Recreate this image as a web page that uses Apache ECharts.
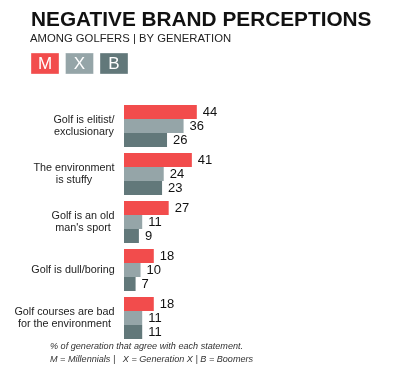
<!DOCTYPE html>
<html><head><meta charset="utf-8">
<script src="https://cdn.jsdelivr.net/npm/echarts@6/dist/echarts.min.js"></script>
<style>html,body{margin:0;padding:0;background:#fff}#c{width:400px;height:371px}</style>
</head><body><div id="c"></div>
<script>
const categories = ["Golf is elitist/\nexclusionary", "The environment\nis stuffy", "Golf is an old\nman's sport", "Golf is dull/boring", "Golf courses are bad\nfor the environment"];
const millennials = [44, 41, 27, 18, 18];
const genX = [36, 24, 11, 10, 11];
const boomers = [26, 23, 9, 7, 11];
const seriesNames = ["M", "X", "B"];
const colors = ["#F24C4C", "#95A5A8", "#62787A"];

const chart = echarts.init(document.getElementById('c'), null, {renderer: 'canvas'});
const font = "Liberation Sans, Arial, sans-serif";
const catFontSize = 10.8;
// measure each category label's widest line so its lines can be centred within the block
const ctx = document.createElement('canvas').getContext('2d');
ctx.font = catFontSize + 'px ' + font;
const rich = {};
categories.forEach((c, i) => {
  const w = Math.max(...c.split('\n').map(s => ctx.measureText(s).width));
  rich['c' + i] = {width: Math.ceil(w), align: 'center', fontSize: catFontSize, lineHeight: 12, color: '#222', fontFamily: font};
});
const lbl = {show: true, position: 'right', distance: 6, fontSize: 13, color: '#111', fontFamily: font};
const mk = (name, data, color) => ({
  name, type: 'bar', data, barWidth: 14, barGap: '0%',
  itemStyle: {color}, label: lbl, silent: true
});
const legendEls = [];
seriesNames.forEach((n, i) => {
  const x0 = 31 + i * 34.5;
  legendEls.push({type: 'rect', shape: {x: x0, y: 53, width: 28, height: 21}, style: {fill: colors[i], stroke: 'rgba(255,255,255,0.35)', lineWidth: 1}});
  legendEls.push({type: 'text', x: x0 + 14, y: 64, style: {text: n, fill: '#fff', font: '17px ' + font, align: 'center', verticalAlign: 'middle'}});
});
chart.setOption({
  animation: false,
  grid: {left: 124, top: 102, width: 165.5, height: 240, containLabel: false},
  xAxis: {type: 'value', min: 0, max: 100, show: false},
  yAxis: {
    type: 'category', data: categories, inverse: true,
    axisLine: {show: false}, axisTick: {show: false},
    axisLabel: {
      margin: 9, align: 'right', rich,
      formatter: (v, idx) => v.split('\n').map(s => '{c' + idx + '|' + s + '}').join('\n')
    }
  },
  series: [mk(seriesNames[0], millennials, colors[0]), mk(seriesNames[1], genX, colors[1]), mk(seriesNames[2], boomers, colors[2])],
  graphic: [
    {type: 'text', x: 31, y: 10, style: {text: 'NEGATIVE BRAND PERCEPTIONS', fill: '#111', font: 'bold 20.8px ' + font}},
    {type: 'text', x: 30, y: 33, style: {text: 'AMONG GOLFERS | BY GENERATION', fill: '#222', font: '11.3px ' + font}},
    ...legendEls,
    {type: 'text', x: 50, y: 342, style: {text: '% of generation that agree with each statement.', fill: '#333', font: 'italic 9.1px ' + font}},
    {type: 'text', x: 50, y: 355, style: {text: 'M = Millennials |   X = Generation X | B = Boomers', fill: '#333', font: 'italic 9.1px ' + font}}
  ]
});
</script></body></html>
